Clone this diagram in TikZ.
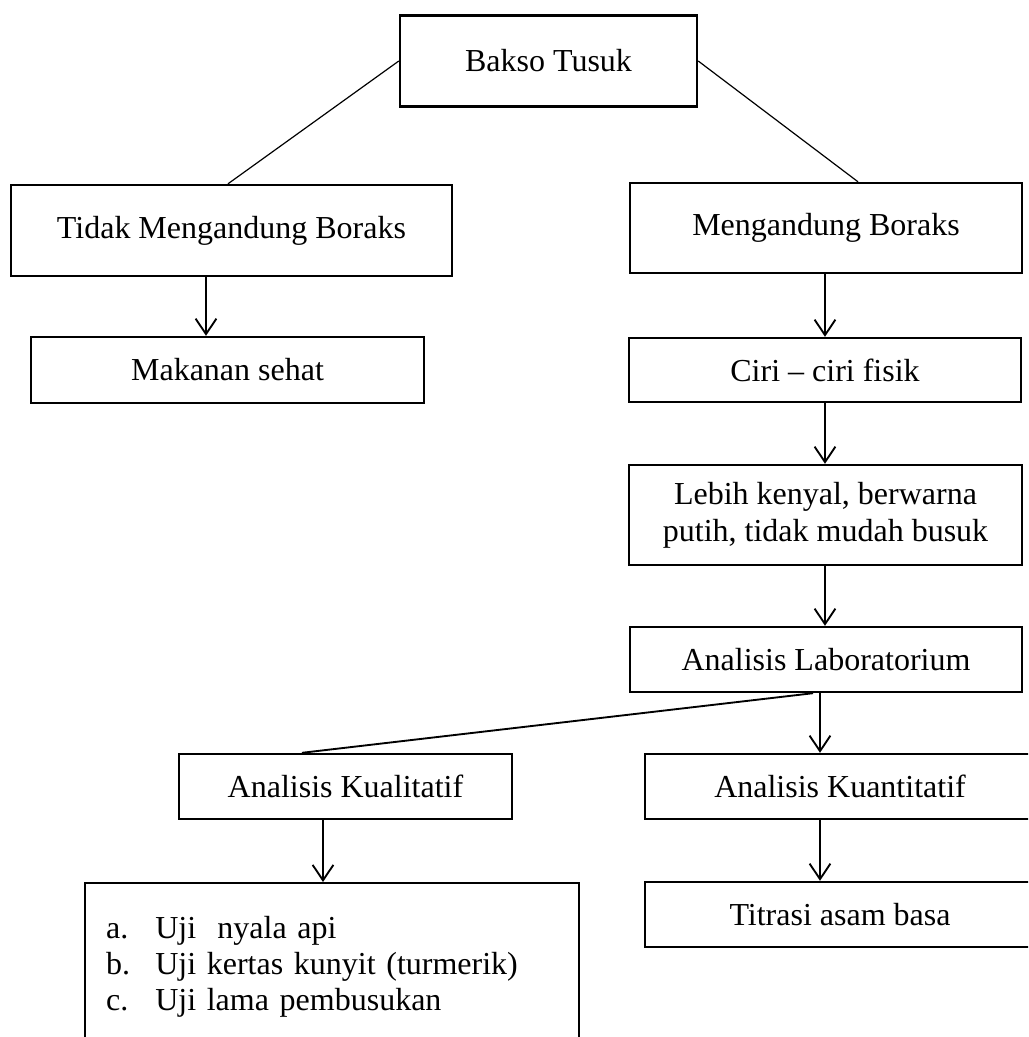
\documentclass[tikz,border=0pt]{standalone}
\usepackage{fontspec}
\setmainfont{Liberation Serif}
\usetikzlibrary{arrows.meta}
\def\pu{0.375pt}
\tikzset{
  box/.style={draw, line width=0.9pt, inner sep=0pt, align=center,
    font=\fontsize{12}{14}\selectfont},
  arr/.style={line width=0.7pt, -{Straight Barb[length=5.8pt, width=7.8pt, line width=0.7pt]}},
  thinline/.style={line width=0.45pt},
  midline/.style={line width=0.7pt}
}
\begin{document}
\begin{tikzpicture}[x=0.375pt, y=-0.375pt]
\useasboundingbox (0,0) rectangle (1028,1037);
\clip (0,0) rectangle (1028,1037);
\node[box, minimum width=297*\pu, minimum height=91*\pu] (bakso) at (548.5,61) {Bakso Tusuk};
\node[box, minimum width=441*\pu, minimum height=91*\pu] (tidak) at (231.5,230.5) {Tidak Mengandung Boraks};
\node[box, minimum width=392*\pu, minimum height=90*\pu] (meng) at (826,228) {Mengandung Boraks};
\node[box, minimum width=393*\pu, minimum height=66*\pu] (makan) at (227.5,370) {Makanan sehat};
\node[box, minimum width=392*\pu, minimum height=64*\pu] (ciri) at (825,370) {Ciri -- ciri fisik};
\node[box, minimum width=393*\pu, minimum height=100*\pu] (lebih) at (825.5,515) {Lebih kenyal, berwarna\\putih, tidak mudah busuk};
\node[box, minimum width=392*\pu, minimum height=65*\pu] (lab) at (826,659.5) {Analisis Laboratorium};
\node[box, minimum width=333*\pu, minimum height=65*\pu] (kual) at (345.5,786.5) {Analisis Kualitatif};
\node[box, minimum width=390*\pu, minimum height=65*\pu] (kuan) at (840,786.5) {Analisis Kuantitatif};
\node[box, minimum width=390*\pu, minimum height=65*\pu] (titrasi) at (840,914.5) {Titrasi asam basa};
\node[box, anchor=north west, minimum width=494*\pu, minimum height=167*\pu,
      align=left, text width=452*\pu, font=\fontsize{12}{13.5}\selectfont] (list) at (84,882)
  {\makebox[18.4pt][l]{a.}Uji\ \ nyala api\\
   \makebox[18.4pt][l]{b.}Uji kertas kunyit (turmerik)\\
   \makebox[18.4pt][l]{c.}Uji lama pembusukan};
\draw[thinline] (bakso.west) -- (tidak.north -| 228,0);
\draw[thinline] (bakso.east) -- (meng.north -| 858,0);
\draw[arr] (tidak.south -| 206,0) -- (makan.north -| 206,0);
\draw[arr] (meng.south -| 825,0) -- (ciri.north -| 825,0);
\draw[arr] (ciri.south -| 825,0) -- (lebih.north -| 825,0);
\draw[arr] (lebih.south -| 825,0) -- (lab.north -| 825,0);
\draw[midline] (lab.south -| 813,0) -- (kual.north -| 302,0);
\draw[arr] (lab.south -| 820,0) -- (kuan.north -| 820,0);
\draw[arr] (kual.south -| 323,0) -- (list.north -| 323,0);
\draw[arr] (kuan.south -| 820,0) -- (titrasi.north -| 820,0);
\end{tikzpicture}
\end{document}
